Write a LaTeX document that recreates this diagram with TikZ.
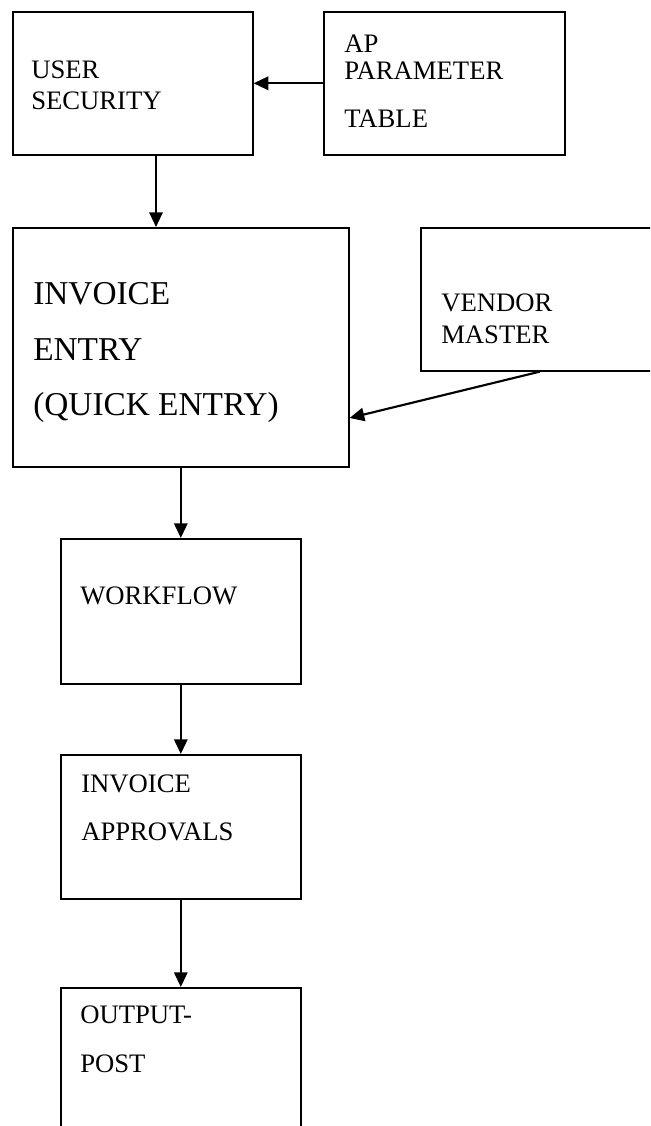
\documentclass[tikz,border=0pt]{standalone}
\usepackage{fontspec}
\setmainfont{Liberation Serif}
\usetikzlibrary{arrows.meta,calc}
\begin{document}
\begin{tikzpicture}[x=0.75pt,y=-0.75pt,
  box/.style={draw, line width=1.2pt, rectangle, anchor=north west, inner sep=0pt},
  flow/.style={line width=1.6pt, -{Triangle[length=11pt,width=10pt]}},
  lbl/.style={anchor=base west, inner sep=0pt, font=\fontsize{20}{22}\selectfont},
  biglbl/.style={lbl, font=\fontsize{25}{27}\selectfont}]
\clip (0,0) rectangle (650,1126);
\fill[white] (0,0) rectangle (650,1126);

% boxes
\node[box, minimum width=180pt,   minimum height=107.25pt] (user)      at (12,11)  {};
\node[box, minimum width=180.75pt,minimum height=107.25pt] (ap)        at (323,11) {};
\node[box, minimum width=252pt,   minimum height=179.25pt] (invoice)   at (12,227) {};
\node[box, minimum width=180pt,   minimum height=107.25pt] (vendor)    at (420,227) {};
\node[box, minimum width=180pt,   minimum height=108.75pt] (workflow)  at (60,538) {};
\node[box, minimum width=180pt,   minimum height=108pt]    (approvals) at (60,754) {};
\node[box, minimum width=180pt,   minimum height=150pt]    (output)    at (60,987) {};

% labels
\node[lbl] (t1) at (31,79)  {USER};
\node[lbl] (t2) at (31,110) {SECURITY};
\node[lbl] (t3) at (344,53)  {AP};
\node[lbl] (t4) at (344,80)  {PARAMETER};
\node[lbl] (t5) at (344,128) {TABLE};
\node[biglbl] (t6) at (33,305) {INVOICE};
\node[biglbl] (t7) at (33,360) {ENTRY};
\node[biglbl] (t8) at (33,415) {(QUICK ENTRY)};
\node[lbl] (t9)  at (441,312) {VENDOR};
\node[lbl] (t10) at (441,344) {MASTER};
\node[lbl] (t11) at (80,604)  {WORKFLOW};
\node[lbl] (t12) at (81,792)  {INVOICE};
\node[lbl] (t13) at (81,840)  {APPROVALS};
\node[lbl] (t14) at (80,1023) {OUTPUT-};
\node[lbl] (t15) at (80,1072) {POST};

% connectors
\coordinate (userout) at ($(user.south west)+(144,0)$);
\coordinate (vendorout) at ($(vendor.south west)+(120,0)$);
\coordinate (invoicein) at ($(invoice.north east)+(0,191)$);
\draw[flow] (ap.west) -- (user.east);
\draw[flow] (userout) -- (userout |- invoice.north);
\draw[flow] (vendorout) -- (invoicein);
\draw[flow] (workflow.north |- invoice.south) -- (workflow.north);
\draw[flow] (workflow.south) -- (approvals.north);
\draw[flow] (approvals.south) -- (output.north);
\end{tikzpicture}
\end{document}
